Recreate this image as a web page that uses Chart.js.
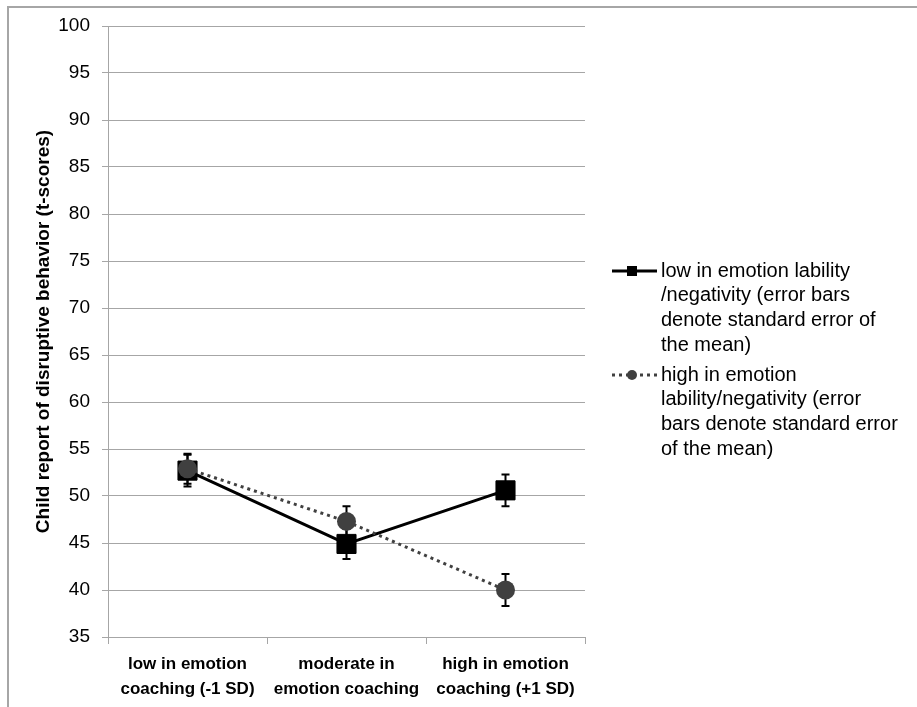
<!DOCTYPE html>
<html>
<head>
<meta charset="utf-8">
<script src="https://cdn.jsdelivr.net/npm/chart.js@4"></script>
<style>
  html, body { margin: 0; padding: 0; background: #fff; }
  #wrap { position: relative; width: 917px; height: 707px; }
  #frame { position: absolute; left: 7px; top: 6px; right: 0; bottom: 0;
           border-top: 2px solid #a6a6a6; border-left: 2px solid #a6a6a6; pointer-events: none; }
</style>
</head>
<body>
<div id="wrap">
  <canvas id="myChartLine" width="917" height="707"></canvas>
  <div id="frame"></div>
</div>
<script>
// data
const categories = [
    ['low in emotion', 'coaching (-1 SD)'],
    ['moderate in', 'emotion coaching'],
    ['high in emotion', 'coaching (+1 SD)']
];
const lowLability = [52.7, 44.9, 50.6];
const lowLabilitySE = [1.7, 1.6, 1.7];
const highLability = [52.9, 47.3, 40.0];
const highLabilitySE = [1.6, 1.6, 1.7];
const legendLow = ['low in emotion lability', '/negativity (error bars', 'denote standard error of', 'the mean)'];
const legendHigh = ['high in emotion', 'lability/negativity (error', 'bars denote standard error', 'of the mean)'];

const FONT = "Arial, 'Liberation Sans', sans-serif";
const GRID = '#a6a6a6';

// error bars drawn with the y scale, under the markers
const errorBars = {
    id: 'errorBars',
    beforeDatasetsDraw(chart) {
        const ctx = chart.ctx;
        const y = chart.scales.y;
        ctx.save();
        ctx.strokeStyle = '#000';
        ctx.lineWidth = 2;
        chart.data.datasets.forEach((ds, i) => {
            const meta = chart.getDatasetMeta(i);
            meta.data.forEach((pt, j) => {
                const v = ds.data[j], se = ds.se[j];
                const top = y.getPixelForValue(v + se);
                const bot = y.getPixelForValue(v - se);
                ctx.beginPath();
                ctx.moveTo(pt.x, top); ctx.lineTo(pt.x, bot);
                ctx.moveTo(pt.x - 4, top); ctx.lineTo(pt.x + 4, top);
                ctx.moveTo(pt.x - 4, bot); ctx.lineTo(pt.x + 4, bot);
                ctx.stroke();
            });
        });
        ctx.restore();
    }
};

// legend on the right with wrapped text
const sideLegend = {
    id: 'sideLegend',
    afterDraw(chart) {
        const ctx = chart.ctx;
        ctx.save();
        ctx.font = '20px ' + FONT;
        ctx.fillStyle = '#000';
        ctx.textBaseline = 'middle';
        const entries = [
            { y: 271, lines: legendLow, ds: chart.data.datasets[0] },
            { y: 375, lines: legendHigh, ds: chart.data.datasets[1] }
        ];
        entries.forEach(e => {
            ctx.save();
            ctx.strokeStyle = e.ds.borderColor;
            ctx.lineWidth = 3;
            ctx.setLineDash(e.ds.borderDash || []);
            ctx.beginPath();
            ctx.moveTo(612, e.y); ctx.lineTo(657, e.y);
            ctx.stroke();
            ctx.restore();
            ctx.fillStyle = e.ds.backgroundColor;
            if (e.ds.pointStyle === 'rect') {
                ctx.fillRect(627, e.y - 5, 10, 10);
            } else {
                ctx.beginPath();
                ctx.arc(632, e.y, 5, 0, Math.PI * 2);
                ctx.fill();
            }
            ctx.fillStyle = '#000';
            e.lines.forEach((t, k) => ctx.fillText(t, 661, e.y + k * 24.7));
        });
        ctx.restore();
    }
};

document.addEventListener('DOMContentLoaded', function () {
    const ctx = document.getElementById('myChartLine').getContext('2d');
    const lineChart = new Chart(ctx, {
        type: 'line',
        data: {
            labels: categories,
            datasets: [{
                label: 'low in emotion lability/negativity (error bars denote standard error of the mean)',
                data: lowLability,
                se: lowLabilitySE,
                borderColor: '#000',
                backgroundColor: '#000',
                borderWidth: 3,
                pointStyle: 'rect',
                pointRadius: 13.5,
                pointBorderWidth: 1,
                order: 1
            }, {
                label: 'high in emotion lability/negativity (error bars denote standard error of the mean)',
                data: highLability,
                se: highLabilitySE,
                borderColor: '#404040',
                backgroundColor: '#404040',
                borderWidth: 3,
                borderDash: [3, 4],
                pointStyle: 'circle',
                pointRadius: 9.5,
                pointBorderWidth: 0,
                order: 0
            }]
        },
        options: {
            responsive: false,
            animation: false,
            layout: { padding: { left: 8, top: 26, right: 332, bottom: 0 } },
            plugins: {
                legend: { display: false },
                tooltip: { enabled: false }
            },
            elements: { line: { tension: 0 } },
            scales: {
                x: {
                    offset: true,
                    grid: { offset: true, drawOnChartArea: false, color: GRID, tickLength: 7 },
                    border: { color: GRID },
                    ticks: {
                        color: '#000',
                        font: { family: FONT, size: 17, weight: 'bold', lineHeight: 1.45 },
                        padding: 8,
                        maxRotation: 0,
                        autoSkip: false
                    },
                    afterFit: scale => { scale.height = 70; }
                },
                y: {
                    min: 35,
                    max: 100,
                    grid: { color: GRID, tickLength: 6 },
                    border: { color: GRID },
                    ticks: {
                        stepSize: 5,
                        color: '#000',
                        font: { family: FONT, size: 19 },
                        padding: 12
                    },
                    title: {
                        display: true,
                        text: 'Child report of disruptive behavior (t-scores)',
                        color: '#000',
                        font: { family: FONT, size: 19, weight: 'bold' },
                        padding: { top: 24, bottom: 0 }
                    },
                    afterFit: scale => { scale.width = 100; }
                }
            }
        },
        plugins: [errorBars, sideLegend]
    });
});
</script>
</body>
</html>
